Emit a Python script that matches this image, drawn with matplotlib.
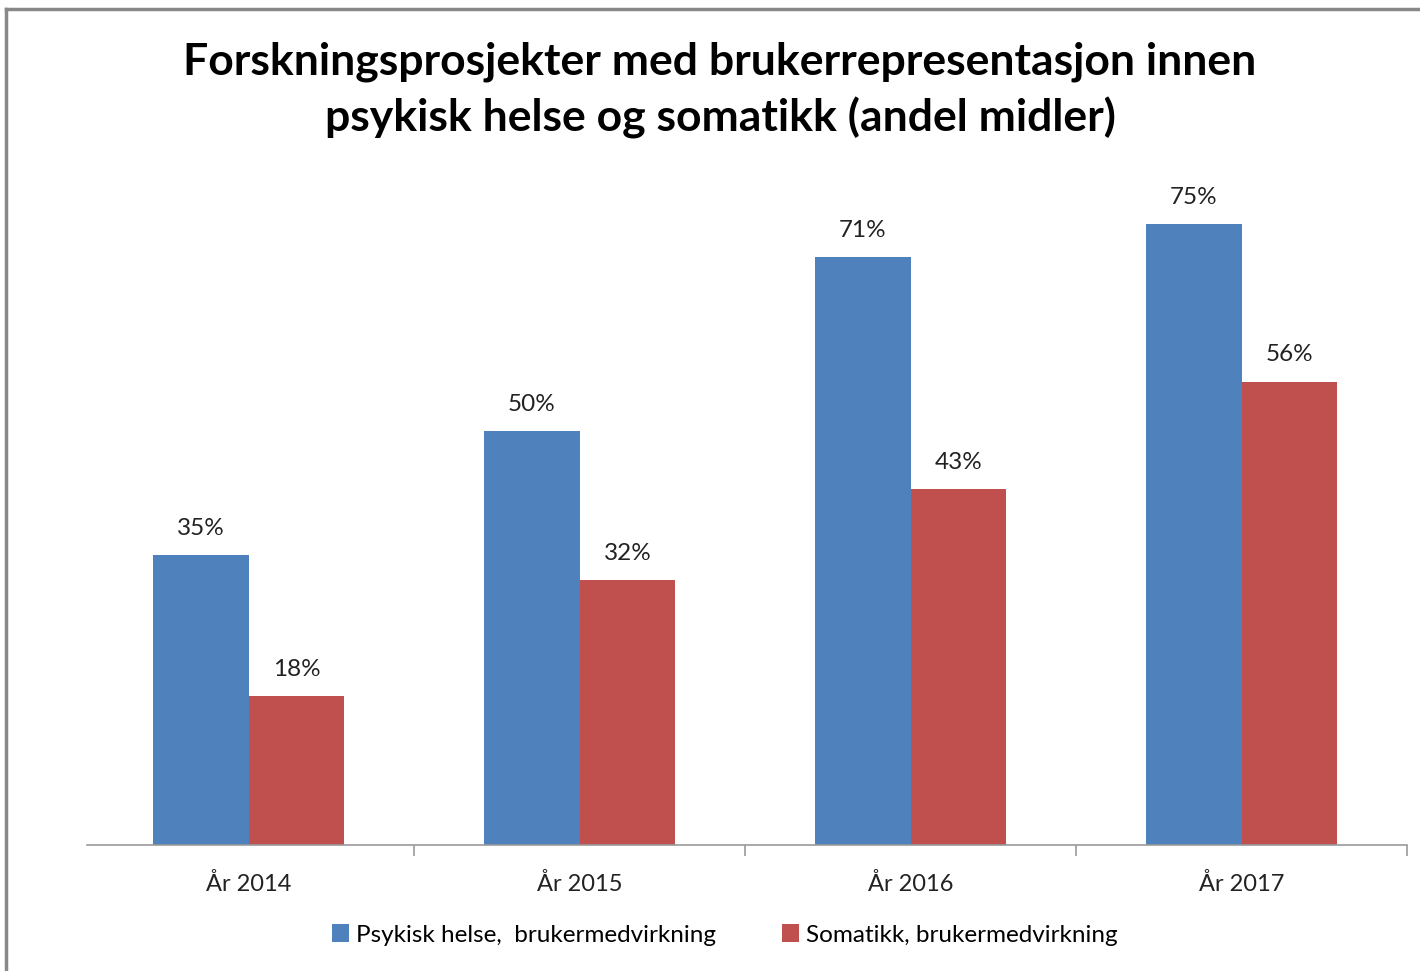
import matplotlib.pyplot as plt
import numpy as np

plt.rcParams['font.family'] = ['Lato', 'DejaVu Sans']

years = ['År 2014', 'År 2015', 'År 2016', 'År 2017']
psykisk = [35, 50, 71, 75]
somatikk = [18, 32, 43, 56]
labels = ['Psykisk helse,  brukermedvirkning', 'Somatikk, brukermedvirkning']

blue = '#4F81BD'
red = '#C0504D'

fig = plt.figure(figsize=(14.2, 9.71), dpi=100)
ax = fig.add_axes([83 / 1420, 1 - 845 / 971, 1324 / 1420, (845 - 183) / 971])

x = np.arange(len(years))
w = 0.29
b1 = ax.bar(x - w / 2, psykisk, w, color=blue, label=labels[0])
b2 = ax.bar(x + w / 2, somatikk, w, color=red, label=labels[1])

for bars, vals in ((b1, psykisk), (b2, somatikk)):
    for r, v in zip(bars, vals):
        ax.text(r.get_x() + r.get_width() / 2, v + 2.0, f'{v}%',
                ha='center', va='bottom', fontsize=17.5, color='#222222')

ax.set_xlim(-0.5, 3.5)
ax.set_ylim(0, 80)
ax.set_yticks([])
ax.set_xticks(x)
ax.set_xticklabels(years, fontsize=17, color='#222222')
ax.tick_params(axis='x', which='major', length=0, pad=20)
ax.set_xticks([0.5, 1.5, 2.5, 3.5], minor=True)
ax.tick_params(axis='x', which='minor', length=8, color='#999999', width=1.2)
for s in ('top', 'right', 'left'):
    ax.spines[s].set_visible(False)
ax.spines['bottom'].set_color('#999999')
ax.spines['bottom'].set_linewidth(1.2)
ax.spines['bottom'].set_bounds(-0.487, 3.5)

fig.text(0.507, 1 - 62 / 971, 'Forskningsprosjekter med brukerrepresentasjon innen',
         ha='center', va='center', fontsize=32, fontweight='bold')
fig.text(0.507, 1 - 118 / 971, 'psykisk helse og somatikk (andel midler)',
         ha='center', va='center', fontsize=32, fontweight='bold')

fig.legend(handles=[b1, b2], labels=labels, loc='center', ncol=2,
           bbox_to_anchor=(0.5105, 1 - 935 / 971), frameon=False, fontsize=17.5,
           handlelength=0.7, handleheight=0.7, handletextpad=0.3, columnspacing=2.7)

# chart border
fig.add_artist(plt.Line2D([6 / 1420, 6 / 1420], [0, 1 - 9 / 971], color='#888888', lw=2.5,
                          transform=fig.transFigure))
fig.add_artist(plt.Line2D([6 / 1420, 1], [1 - 9 / 971, 1 - 9 / 971], color='#888888', lw=2.5,
                          transform=fig.transFigure))

fig.savefig('out.png', dpi=100)
